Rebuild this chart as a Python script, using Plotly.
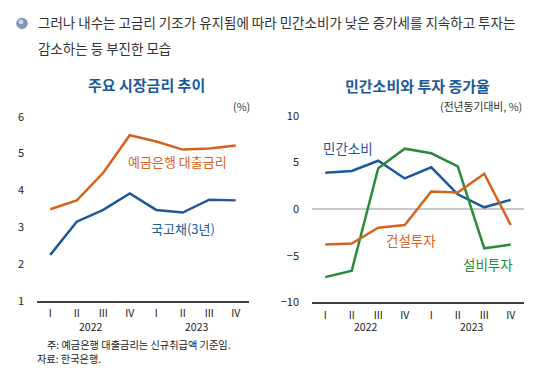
import plotly.graph_objects as go

W, H = 555, 385
quarters = ["I", "II", "III", "IV", "I", "II", "III", "IV"]
years = ["2022", "2023"]

# Left chart: market rates (%)
loan_rate = [3.49, 3.73, 4.48, 5.50, 5.33, 5.11, 5.14, 5.22]
treasury_3y = [2.25, 3.15, 3.47, 3.92, 3.47, 3.40, 3.75, 3.73]

# Right chart: YoY growth (%)
consumption = [3.9, 4.1, 5.2, 3.3, 4.5, 1.6, 0.2, 1.0]
equipment = [-7.3, -6.6, 4.4, 6.5, 6.0, 4.6, -4.2, -3.8]
construction = [-3.8, -3.7, -2.0, -1.7, 1.9, 1.8, 3.8, -1.7]

BLUE = "#1b5a96"
ORANGE = "#d4641c"
GREEN = "#2b8a3c"
FONT = "Noto Sans CJK KR"

def px(x):
    return x / W

def py(y):
    return 1 - y / H

x = list(range(8))
fig = go.Figure()
fig.add_trace(go.Scatter(x=x, y=loan_rate, mode="lines", line=dict(color=ORANGE, width=2.5),
                         xaxis="x", yaxis="y", showlegend=False))
fig.add_trace(go.Scatter(x=x, y=treasury_3y, mode="lines", line=dict(color=BLUE, width=2.5),
                         xaxis="x", yaxis="y", showlegend=False))
fig.add_trace(go.Scatter(x=x, y=consumption, mode="lines", line=dict(color=BLUE, width=2.5),
                         xaxis="x2", yaxis="y2", showlegend=False))
fig.add_trace(go.Scatter(x=x, y=equipment, mode="lines", line=dict(color=GREEN, width=2.5),
                         xaxis="x2", yaxis="y2", showlegend=False))
fig.add_trace(go.Scatter(x=x, y=construction, mode="lines", line=dict(color=ORANGE, width=2.5),
                         xaxis="x2", yaxis="y2", showlegend=False))

xcommon = dict(range=[-0.5, 7.5], tickvals=x, ticktext=quarters, showgrid=False, zeroline=False,
               showline=True, linecolor="#404040", linewidth=2, ticks="", ticklabelstandoff=2,
               tickfont=dict(size=10.5, color="#222", family=FONT), fixedrange=True)
ycommon = dict(showgrid=False, showline=False, ticks="", ticklabelstandoff=12,
               tickfont=dict(size=11, color="#222", family=FONT), fixedrange=True)

fig.update_layout(
    width=W, height=H, margin=dict(l=0, r=0, t=0, b=0),
    paper_bgcolor="white", plot_bgcolor="white",
    font=dict(family=FONT),
    xaxis=dict(domain=[px(37), px(249)], anchor="y", **xcommon),
    yaxis=dict(domain=[py(304.5), py(112.5)], anchor="x", range=[1, 6], tickvals=[1, 2, 3, 4, 5, 6],
               zeroline=False, **ycommon),
    xaxis2=dict(domain=[px(312), px(524)], anchor="y2", **xcommon),
    yaxis2=dict(domain=[py(306), py(111.7)], anchor="x2", range=[-10, 10], tickvals=[-10, -5, 0, 5, 10],
                zeroline=True, zerolinecolor="#c8c8c8", zerolinewidth=1.5, **ycommon),
)

ann = []
def text(t, x0, y0, size, color, xanchor="center", bold=False):
    ann.append(dict(text=f"<b>{t}</b>" if bold else t, x=px(x0), y=py(y0), xref="paper", yref="paper",
                    xanchor=xanchor, yanchor="middle", showarrow=False,
                    font=dict(size=size, color=color, family=FONT)))

text("그러나 내수는 고금리 기조가 유지됨에 따라 민간소비가 낮은 증가세를 지속하고 투자는", 36, 13.5, 13.5, "#333", "left")
text("감소하는 등 부진한 모습", 36, 40.5, 13.5, "#333", "left")
text("주요 시장금리 추이", 146, 79, 15, BLUE, bold=True)
text("민간소비와 투자 증가율", 417, 80, 15, BLUE, bold=True)
text("(%)", 241, 101, 10.8, "#333")
text("(전년동기대비, %)", 481, 101, 10.8, "#333")
text("예금은행 대출금리", 177.5, 159.5, 13, ORANGE)
text("국고채(3년)", 182.5, 229.5, 13, BLUE)
text("민간소비", 347.5, 145.5, 13.5, BLUE)
text("건설투자", 411, 240.5, 13.5, ORANGE)
text("설비투자", 487.5, 266.5, 13.5, GREEN)
text(years[0], 90, 331, 10.5, "#222")
text(years[1], 196, 331, 10.5, "#222")
text(years[0], 365, 331.5, 10.5, "#222")
text(years[1], 471, 331.5, 10.5, "#222")
text("주: 예금은행 대출금리는 신규취급액 기준임.", 45, 350.3, 10.2, "#222", "left")
text("자료: 한국은행.", 35, 364.2, 10.2, "#222", "left")
fig.update_layout(annotations=ann)

fig.update_layout(shapes=[
    dict(type="circle", xref="paper", yref="paper", x0=px(16.5), x1=px(27.5), y0=py(20.5), y1=py(9.5),
         fillcolor="#7f95b8", line=dict(color="#6a80a6", width=0.5)),
    dict(type="circle", xref="paper", yref="paper", x0=px(18.5), x1=px(23.5), y0=py(16), y1=py(11),
         fillcolor="#c9d4e6", line=dict(width=0)),
])

fig.write_html("out.html", config={"displayModeBar": False},
               post_script="document.body.style.margin='0';document.body.style.overflow='hidden';")
